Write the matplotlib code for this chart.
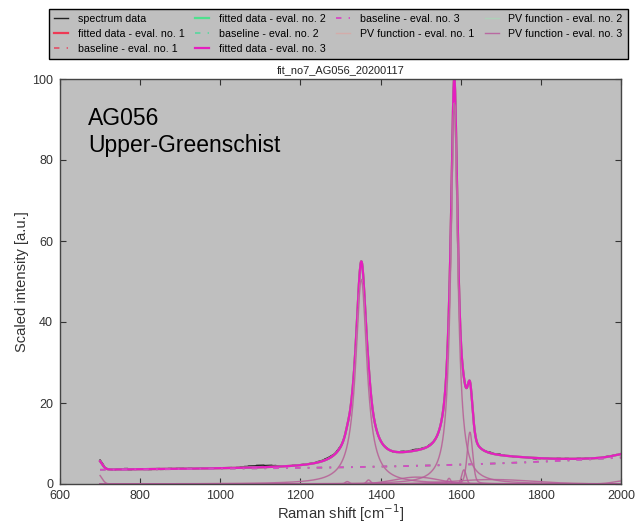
import numpy as np
import matplotlib
matplotlib.use("Agg")
import matplotlib.pyplot as plt

plt.rcParams['font.family'] = ['Liberation Sans', 'DejaVu Sans']

# ---- data -------------------------------------------------------------
# Raman shift range of the spectrum
shift_start, shift_stop = 700, 2000

# baseline anchor readings (cm-1, intensity)
baseline_x = [700, 1000, 1200, 1400, 1600, 1800, 2000]
baseline_y = [3.5, 3.75, 4.0, 4.3, 4.7, 5.6, 6.5]

# pseudo-Voigt components: centre, amplitude, FWHM, Lorentz fraction
pv_center = [695, 1317, 1352, 1370, 1490, 1571, 1584, 1608, 1623, 1680, 2020]
pv_amp    = [2.4, 0.6, 50.5, 1.0, 1.7, 1.4, 94.0, 3.5, 12.8, 1.1, 0.9]
pv_fwhm   = [22, 12, 34, 12, 130, 10, 21, 13, 16, 240, 80]
pv_eta    = [0.0, 0.0, 1.0, 0.0, 0.0, 0.0, 1.0, 0.0, 0.3, 0.0, 0.0]

# spectrum minus fit, every 10 cm-1 from 700 to 2000
residual = [
    0.3, 0.1, 0.0, -0.1, 0.1, 0.0, 0.2, -0.1, 0.1, 0.0,
    0.0, 0.1, -0.1, 0.0, 0.1, -0.1, 0.0, 0.1, 0.0, 0.1,
    0.1, 0.0, 0.1, -0.1, 0.0, 0.1, 0.0, 0.1, 0.0, 0.1,
    0.0, 0.1, 0.1, 0.0, 0.1, 0.2, 0.3, 0.4, 0.4, 0.5,
    0.5, 0.4, 0.4, 0.3, 0.2, 0.1, 0.1, 0.0, 0.1, 0.0,
    0.1, 0.0, 0.1, 0.1, 0.2, 0.2, 0.3, 0.3, 0.2, 0.3,
    0.2, 0.0, 0.0, 0.0, 0.0, 0.0, 0.0, 0.0, 0.0, 0.0,
    0.0, 0.1, 0.0, -0.1, 0.1, 0.2, 0.1, 0.2, 0.3, 0.2,
    0.2, 0.1, 0.2, 0.1, 0.0, 0.0, 0.0, 0.0, 0.0, 0.0,
    0.0, 0.0, 0.0, 0.0, 0.0, 0.0, 0.1, 0.2, 0.1, 0.2,
    0.1, 0.0, 0.1, -0.1, 0.0, 0.1, 0.0, -0.1, -0.2, -0.1,
    0.0, 0.1, 0.0, -0.1, 0.1, 0.0, 0.1, 0.0, -0.1, 0.1,
    0.0, 0.1, 0.0, 0.1, -0.1, 0.0, 0.1, 0.0, 0.1, 0.0,
    0.1,
]

sample_name = "AG056\nUpper-Greenschist"
plot_title = "fit_no7_AG056_20200117"
x_ticks = [600, 800, 1000, 1200, 1400, 1600, 1800, 2000]
y_ticks = [0, 20, 40, 60, 80, 100]

# ---- model ------------------------------------------------------------
x = np.arange(shift_start, shift_stop + 1, 1.0)


def pseudo_voigt(x, c, a, w, eta):
    lor = 1.0 / (1.0 + ((x - c) / (w / 2.0)) ** 2)
    gau = np.exp(-4.0 * np.log(2.0) * ((x - c) / w) ** 2)
    return a * (eta * lor + (1.0 - eta) * gau)


coef = np.polyfit(baseline_x, baseline_y, 3)
baseline = np.polyval(coef, x)
components = [pseudo_voigt(x, c, a, w, e)
              for c, a, w, e in zip(pv_center, pv_amp, pv_fwhm, pv_eta)]
fitted = baseline + np.sum(components, axis=0)
spectrum = fitted + np.repeat(residual, 10)[:len(x)]

# ---- figure -----------------------------------------------------------
grey = '#bfbfbf'
fig = plt.figure(figsize=(6.36, 5.25), dpi=100)
ax = fig.add_axes([60 / 636, 1 - 484 / 525, 561 / 636, 405 / 525])
ax.set_facecolor(grey)

eval_fit_col = ['#ee3a55', '#4fe08e', '#e51fbf']
eval_base_col = ['#e0566c', '#5ed6a0', '#d848c4']
eval_pv_col = ['#e89a96', '#9fe3b4', '#b85a9c']

handles = []
h, = ax.plot(x, spectrum, color='#222222', lw=1.0, label='spectrum data')
handles.append(h)
for i in range(3):
    hf, = ax.plot(x, fitted, color=eval_fit_col[i], lw=1.6,
                  label=f'fitted data - eval. no. {i + 1}')
    hb, = ax.plot(x, baseline, color=eval_base_col[i], lw=1.3,
                  linestyle=(0, (3, 4, 1, 4)),
                  label=f'baseline - eval. no. {i + 1}')
    handles += [hf, hb]
for i in range(3):
    for j, comp in enumerate(components):
        hp, = ax.plot(x, comp, color=eval_pv_col[i], lw=1.0,
                      alpha=0.85 if i == 2 else 0.5,
                      label=f'PV function - eval. no. {i + 1}' if j == 0 else None)
        if j == 0:
            handles.append(hp)

fig.legend(handles=handles,
           loc='lower left', ncol=4, mode='expand',
           bbox_to_anchor=(49 / 636, 1 - 59 / 525, 579 / 636, 49 / 525),
           fontsize=7.7, facecolor=grey, edgecolor='black', framealpha=1,
           fancybox=False, handlelength=1.3, handletextpad=0.9,
           labelspacing=0.45, borderaxespad=0.0, columnspacing=0.8,
           borderpad=0.5)

ax.set_xlim(600, 2000)
ax.set_ylim(0, 100)
ax.set_xticks(x_ticks)
ax.set_yticks(y_ticks)
ax.tick_params(direction='in', top=True, right=True, labelsize=9,
               colors='#333333', length=4)
ax.tick_params(axis='x', pad=4)
ax.tick_params(axis='y', pad=5)
for s in ax.spines.values():
    s.set_color('#444444')
    s.set_linewidth(1.0)

ax.set_xlabel('Raman shift [cm$^{-1}$]', fontsize=10.6, color='#333333',
              labelpad=0.5)
ax.set_ylabel('Scaled intensity [a.u.]', fontsize=10.6, color='#333333',
              labelpad=2)
ax.set_title(plot_title, fontsize=7.9, color='#222222', pad=4)
ax.text(0.05, 0.93, sample_name, transform=ax.transAxes, fontsize=16.5,
        va='top', ha='left', color='black', linespacing=1.2)

fig.savefig('out.png', dpi=100)
